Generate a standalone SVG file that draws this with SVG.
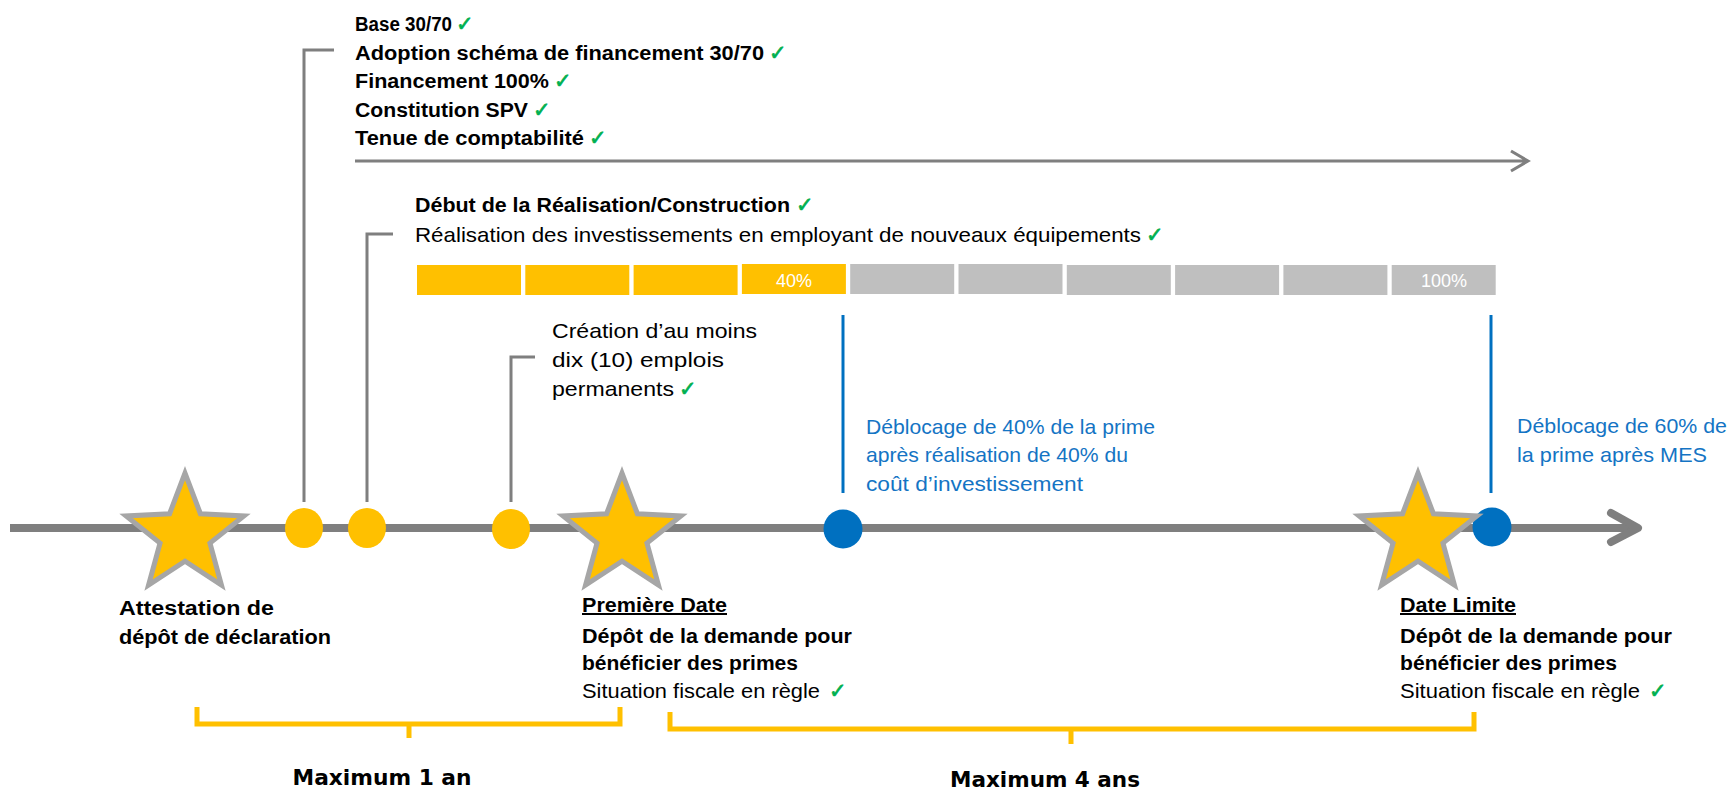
<svg xmlns="http://www.w3.org/2000/svg" xmlns:xlink="http://www.w3.org/1999/xlink" width="1733" height="789" viewBox="0 0 1733 789">
<style>
.t{font-family:"Liberation Sans",Arial,sans-serif;fill:#000}
.b{font-weight:bold;font-size:20px}
.r{font-size:21px}
.blue{fill:#1474C4}
.ck{font-family:"DejaVu Sans",sans-serif;font-size:21px;fill:#00B050;stroke:#00B050;stroke-width:0.7}
.conn{fill:none;stroke:#7F7F7F;stroke-width:3}
.blu{fill:none;stroke:#0070C0;stroke-width:3}
.brk{fill:none;stroke:#FFC000;stroke-width:5}
.star{fill:#FFC000;stroke:#A6A6A6;stroke-width:4.8}
.ydot{fill:#FFC000}
.bdot{fill:#0070C0}
.sy{fill:#FFC000}
.sg{fill:#BFBFBF}
.pct{font-family:"Liberation Sans",Arial,sans-serif;font-size:18px;fill:#fff;text-anchor:middle}
.max{font-family:"DejaVu Sans",Verdana,sans-serif;font-weight:bold;font-size:22px;text-anchor:middle}
</style>
<defs>
<path id="star" d="M0,-59 L14.69,-20.23 L56.11,-18.23 L23.78,7.73 L34.68,47.73 L0,25 L-34.68,47.73 L-23.78,7.73 L-56.11,-18.23 L-14.69,-20.23 Z"/>
</defs>
<rect width="1733" height="789" fill="#fff"/>

<g id="connectors">
  <path class="conn" d="M304,502 V50 H334"/>
  <path class="conn" d="M367,502 V234 H393"/>
  <path class="conn" d="M511,502 V357 H535"/>
  <path class="conn" d="M355,161 H1527 M1511,151 L1528,161 L1511,171"/>
  <path class="blu" d="M843,315 V493"/>
  <path class="blu" d="M1491,315 V493"/>
  <path class="brk" d="M197,707 V724 H620 V707 M409,724 V738"/>
  <path class="brk" d="M670,712 V729 H1474 V712 M1071,729 V744"/>
</g>

<g id="timeline">
  <path d="M10,528 H1636" stroke="#7F7F7F" stroke-width="8" fill="none"/>
  <path d="M1611,513 L1638,528 L1611,542" stroke="#7F7F7F" stroke-width="8" fill="none" stroke-linecap="round" stroke-linejoin="round"/>
</g>

<g id="requirements">
  <text class="t b" x="355" y="31" textLength="97" lengthAdjust="spacingAndGlyphs">Base 30/70</text><text class="ck" x="456" y="31">✓</text>
  <text class="t b" x="355" y="60" textLength="409" lengthAdjust="spacingAndGlyphs">Adoption schéma de financement 30/70</text><text class="ck" x="769" y="60">✓</text>
  <text class="t b" x="355" y="88" textLength="194" lengthAdjust="spacingAndGlyphs">Financement 100%</text><text class="ck" x="554" y="88">✓</text>
  <text class="t b" x="355" y="117" textLength="173" lengthAdjust="spacingAndGlyphs">Constitution SPV</text><text class="ck" x="533" y="117">✓</text>
  <text class="t b" x="355" y="145" textLength="229" lengthAdjust="spacingAndGlyphs">Tenue de comptabilité</text><text class="ck" x="589" y="145">✓</text>
</g>

<g id="construction">
  <text class="t b" x="415" y="212" textLength="375" lengthAdjust="spacingAndGlyphs">Début de la Réalisation/Construction</text><text class="ck" x="796" y="212">✓</text>
  <text class="t r" x="415" y="242" textLength="726" lengthAdjust="spacingAndGlyphs">Réalisation des investissements en employant de nouveaux équipements</text><text class="ck" x="1146" y="242">✓</text>
</g>

<g id="progress">
  <rect class="sy" x="417" y="265" width="104" height="30"/>
  <rect class="sy" x="525.3" y="265" width="104" height="30"/>
  <rect class="sy" x="633.6" y="265" width="104" height="30"/>
  <rect class="sy" x="741.9" y="264" width="104" height="30"/>
  <rect class="sg" x="850.2" y="264" width="104" height="30"/>
  <rect class="sg" x="958.5" y="264" width="104" height="30"/>
  <rect class="sg" x="1066.8" y="265" width="104" height="30"/>
  <rect class="sg" x="1175.1" y="265" width="104" height="30"/>
  <rect class="sg" x="1283.4" y="265" width="104" height="30"/>
  <rect class="sg" x="1391.7" y="265" width="104" height="30"/>
  <text class="pct" x="794" y="287">40%</text>
  <text class="pct" x="1444" y="287">100%</text>
</g>

<g id="emplois">
  <text class="t r" x="552" y="338" textLength="205" lengthAdjust="spacingAndGlyphs">Création d’au moins</text>
  <text class="t r" x="552" y="367" textLength="172" lengthAdjust="spacingAndGlyphs">dix (10) emplois</text>
  <text class="t r" x="552" y="396" textLength="122" lengthAdjust="spacingAndGlyphs">permanents</text><text class="ck" x="679" y="396">✓</text>
</g>

<g id="deblocage40">
  <text class="t r blue" x="866" y="434" textLength="289" lengthAdjust="spacingAndGlyphs">Déblocage de 40% de la prime</text>
  <text class="t r blue" x="866" y="462" textLength="262" lengthAdjust="spacingAndGlyphs">après réalisation de 40% du</text>
  <text class="t r blue" x="866" y="491" textLength="217" lengthAdjust="spacingAndGlyphs">coût d’investissement</text>
</g>

<g id="deblocage60">
  <text class="t r blue" x="1517" y="433" textLength="210" lengthAdjust="spacingAndGlyphs">Déblocage de 60% de</text>
  <text class="t r blue" x="1517" y="462" textLength="190" lengthAdjust="spacingAndGlyphs">la prime après MES</text>
</g>

<g id="dots">
  <ellipse class="ydot" cx="304" cy="528" rx="19" ry="20"/>
  <ellipse class="ydot" cx="367" cy="528" rx="19" ry="20"/>
  <ellipse class="ydot" cx="511" cy="529" rx="19" ry="20"/>
  <circle class="bdot" cx="843" cy="529" r="19.5"/>
  <circle class="bdot" cx="1492" cy="527" r="19.5"/>
</g>

<g id="star-attestation">
  <use xlink:href="#star" class="star" transform="translate(185,535) scale(1.05)"/>
  <text class="t b" x="119" y="615" textLength="155" lengthAdjust="spacingAndGlyphs">Attestation de</text>
  <text class="t b" x="119" y="644" textLength="212" lengthAdjust="spacingAndGlyphs">dépôt de déclaration</text>
</g>

<g id="star-premiere">
  <use xlink:href="#star" class="star" transform="translate(622,535) scale(1.05)"/>
  <text class="t b" x="582" y="612" textLength="145" lengthAdjust="spacingAndGlyphs" text-decoration="underline">Première Date</text>
  <text class="t b" x="582" y="643" textLength="270" lengthAdjust="spacingAndGlyphs">Dépôt de la demande pour</text>
  <text class="t b" x="582" y="670" textLength="216" lengthAdjust="spacingAndGlyphs">bénéficier des primes</text>
  <text class="t r" x="582" y="698" textLength="238" lengthAdjust="spacingAndGlyphs">Situation fiscale en règle</text><text class="ck" x="829" y="698">✓</text>
</g>

<g id="star-limite">
  <use xlink:href="#star" class="star" transform="translate(1418,535) scale(1.05)"/>
  <text class="t b" x="1400" y="612" textLength="116" lengthAdjust="spacingAndGlyphs" text-decoration="underline">Date Limite</text>
  <text class="t b" x="1400" y="643" textLength="272" lengthAdjust="spacingAndGlyphs">Dépôt de la demande pour</text>
  <text class="t b" x="1400" y="670" textLength="217" lengthAdjust="spacingAndGlyphs">bénéficier des primes</text>
  <text class="t r" x="1400" y="698" textLength="240" lengthAdjust="spacingAndGlyphs">Situation fiscale en règle</text><text class="ck" x="1649" y="698">✓</text>
</g>

<g id="durations">
  <text class="max" x="382" y="785" textLength="179" lengthAdjust="spacingAndGlyphs">Maximum 1 an</text>
  <text class="max" x="1045" y="787" textLength="190" lengthAdjust="spacingAndGlyphs">Maximum 4 ans</text>
</g>
</svg>
